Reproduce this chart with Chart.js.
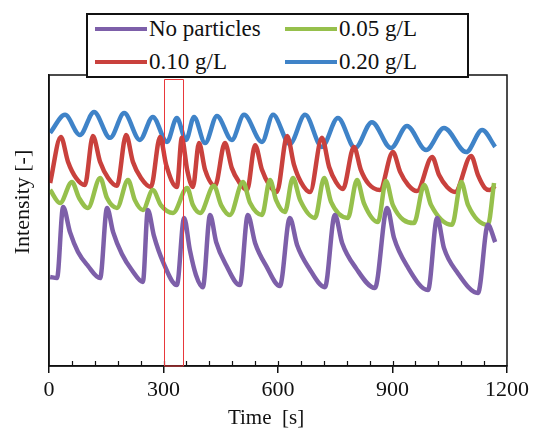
<!DOCTYPE html>
<html>
<head>
<meta charset="utf-8">
<script src="https://cdn.jsdelivr.net/npm/chart.js@4/dist/chart.umd.min.js"></script>
<style>
  body { margin: 0; background: #fff; }
  #wrap { position: relative; width: 534px; height: 433px; }
  #legend {
    position: absolute; left: 86px; top: 13px; width: 379px; height: 61px;
    border: 2px solid #111; background: #fff;
    font-family: "Liberation Serif", "Times New Roman", serif; font-size: 23px; color: #111;
  }
  .item { position: absolute; height: 30px; display: flex; align-items: center; white-space: nowrap; }
  .swatch { width: 52px; height: 4px; margin-right: 2px; }
</style>
</head>
<body>
<div id="wrap">
  <canvas id="grafico" width="534" height="433"></canvas>
  <div id="legend"></div>
</div>
<script>
// time [s] and intensity [-] for each particle concentration
const timeNone = [3, 21, 37, 55, 76, 102, 134, 152, 168, 191, 217, 246, 259, 275, 299, 335, 354, 369, 385, 403, 422, 438, 464, 500, 521, 540, 569, 605, 631, 650, 681, 723, 749, 768, 804, 854, 886, 904, 938, 993, 1017, 1035, 1069, 1124, 1150, 1169];
const intNone = [30.6, 30.2, 54.6, 46.0, 39.2, 34.4, 30.2, 54.3, 46.0, 38.5, 33.0, 28.9, 53.6, 44.7, 35.7, 27.8, 50.9, 39.9, 31.3, 27.1, 51.9, 42.6, 34.7, 27.8, 51.9, 42.3, 34.4, 27.5, 50.9, 41.6, 33.7, 27.1, 51.9, 42.3, 33.7, 26.8, 54.3, 44.0, 34.4, 26.1, 50.9, 40.5, 32.3, 25.1, 48.5, 42.6];

const time005 = [3, 29, 60, 79, 102, 134, 152, 178, 207, 225, 246, 272, 293, 325, 362, 377, 396, 432, 451, 474, 508, 527, 558, 579, 595, 618, 639, 658, 697, 721, 739, 783, 807, 825, 862, 883, 901, 956, 983, 1001, 1056, 1080, 1098, 1150, 1166];
const int005 = [60.5, 56.0, 63.2, 57.7, 54.3, 64.6, 57.7, 54.3, 63.9, 57.0, 53.6, 60.5, 55.3, 52.6, 61.2, 55.3, 52.6, 61.9, 55.3, 51.9, 63.2, 56.0, 51.9, 63.9, 57.0, 52.9, 64.6, 57.0, 50.9, 64.6, 56.4, 50.9, 63.9, 56.0, 49.5, 63.6, 55.3, 49.1, 62.2, 55.3, 48.5, 63.2, 55.3, 48.5, 62.9];

const time010 = [3, 31, 50, 71, 94, 115, 134, 155, 178, 202, 220, 241, 267, 291, 307, 335, 348, 362, 377, 393, 409, 435, 461, 479, 498, 519, 540, 558, 577, 597, 624, 642, 660, 684, 715, 734, 752, 770, 799, 817, 838, 867, 901, 920, 941, 964, 1004, 1022, 1043, 1064, 1106, 1124, 1142, 1155, 1169];
const int010 = [62.9, 78.7, 70.1, 64.6, 62.2, 79.0, 70.1, 64.6, 61.9, 79.4, 70.1, 64.6, 61.5, 78.7, 69.1, 61.5, 78.4, 67.4, 61.5, 76.6, 67.4, 61.9, 76.6, 68.0, 63.2, 60.5, 75.9, 67.4, 62.2, 59.8, 79.0, 69.1, 63.2, 59.8, 78.4, 68.4, 63.2, 60.8, 75.3, 67.4, 62.5, 60.5, 73.5, 66.7, 62.2, 60.1, 71.8, 65.6, 61.5, 59.8, 72.2, 65.6, 61.2, 60.5, 61.9];

const time020 = [3, 42, 81, 118, 160, 197, 238, 272, 309, 335, 359, 380, 409, 440, 479, 511, 558, 587, 631, 671, 715, 757, 802, 846, 896, 938, 988, 1035, 1093, 1135, 1169];
const int020 = [80.1, 86.3, 79.4, 87.3, 78.4, 86.9, 77.7, 85.6, 77.0, 85.2, 77.7, 85.6, 76.6, 85.9, 77.7, 86.3, 77.0, 86.3, 76.3, 86.3, 75.3, 85.2, 74.9, 83.8, 74.9, 82.5, 74.2, 81.8, 73.5, 81.1, 75.3];

const etiquetas = ["No particles", "0.05 g/L", "0.10 g/L", "0.20 g/L"];
const colores = ["#7d5fa9", "#96c04c", "#c9413d", "#3f83c8"];
const xTicks = [0, 300, 600, 900, 1200];
const ventana = [300, 350]; // marked time window [s]

const serif = "'Liberation Serif', 'Times New Roman', serif";

function puntos(ts, vs) {
  return ts.map((t, i) => ({ x: t, y: vs[i] }));
}

const series = [puntos(timeNone, intNone), puntos(time005, int005), puntos(time010, int010), puntos(time020, int020)];

// plot frame, inner minor ticks, axis titles and the red window box
const marco = {
  id: "marco",
  afterDraw(chart) {
    const { ctx, chartArea: a, scales: { x } } = chart;
    ctx.save();
    ctx.strokeStyle = "#111";
    ctx.lineWidth = 1.5;
    ctx.strokeRect(a.left, a.top, a.right - a.left, a.bottom - a.top);
    ctx.lineWidth = 1.2;
    ctx.beginPath();
    for (let t = 60; t < 1200; t += 60) {
      const px = Math.round(x.getPixelForValue(t)) + 0.5;
      ctx.moveTo(px, a.bottom);
      ctx.lineTo(px, a.bottom - 5);
    }
    ctx.stroke();

    ctx.strokeStyle = "#e8383b";
    ctx.lineWidth = 1;
    const x0 = Math.round(x.getPixelForValue(ventana[0])) + 0.5;
    const x1 = Math.round(x.getPixelForValue(ventana[1])) + 0.5;
    ctx.beginPath();
    ctx.moveTo(x0, a.bottom);
    ctx.lineTo(x0, a.top + 4.5);
    ctx.lineTo(x1, a.top + 4.5);
    ctx.lineTo(x1, a.bottom);
    ctx.closePath();
    ctx.stroke();

    ctx.fillStyle = "#111";
    ctx.font = "21px " + serif;
    ctx.textAlign = "center";
    ctx.textBaseline = "middle";
    ctx.fillText("Time  [s]", 266, 418);
    ctx.translate(23, 202);
    ctx.rotate(-Math.PI / 2);
    ctx.font = "22px " + serif;
    ctx.fillText("Intensity [-]", 0, 0);
    ctx.restore();
  }
};

new Chart(document.getElementById("grafico"), {
  type: "line",
  data: {
    datasets: series.map((d, i) => ({
      label: etiquetas[i],
      data: d,
      borderColor: colores[i],
      borderWidth: 4.5,
      pointRadius: 0,
      cubicInterpolationMode: "monotone",
      fill: false
    }))
  },
  options: {
    responsive: false,
    animation: false,
    devicePixelRatio: 1,
    layout: { padding: { top: 75, right: 27, left: 0, bottom: 0 } },
    plugins: { legend: { display: false }, tooltip: { enabled: false } },
    scales: {
      x: {
        type: "linear",
        min: 0,
        max: 1200,
        afterBuildTicks: s => { s.ticks = xTicks.map(v => ({ value: v })); },
        afterFit: s => { s.height = 67; },
        grid: { drawOnChartArea: false, drawTicks: true, tickLength: 7, color: "#111", lineWidth: 1.5 },
        border: { display: true, color: "#111", width: 1.5 },
        ticks: { color: "#111", padding: 4, maxRotation: 0, callback: v => String(v), font: { family: serif, size: 22 } }
      },
      y: {
        min: 0,
        max: 100,
        afterFit: s => { s.width = 49; },
        grid: { display: false },
        border: { display: true, color: "#111", width: 1.5 },
        ticks: { display: false }
      }
    }
  },
  plugins: [marco]
});

// legend box, two columns
const legend = document.getElementById("legend");
const posiciones = [[7, -1], [197, -1], [7, 32], [197, 32]];
etiquetas.forEach((txt, i) => {
  const item = document.createElement("div");
  item.className = "item";
  item.style.left = posiciones[i][0] + "px";
  item.style.top = posiciones[i][1] + "px";
  const sw = document.createElement("span");
  sw.className = "swatch";
  sw.style.background = colores[i];
  const label = document.createElement("span");
  label.textContent = txt;
  item.appendChild(sw);
  item.appendChild(label);
  legend.appendChild(item);
});
</script>
</body>
</html>
